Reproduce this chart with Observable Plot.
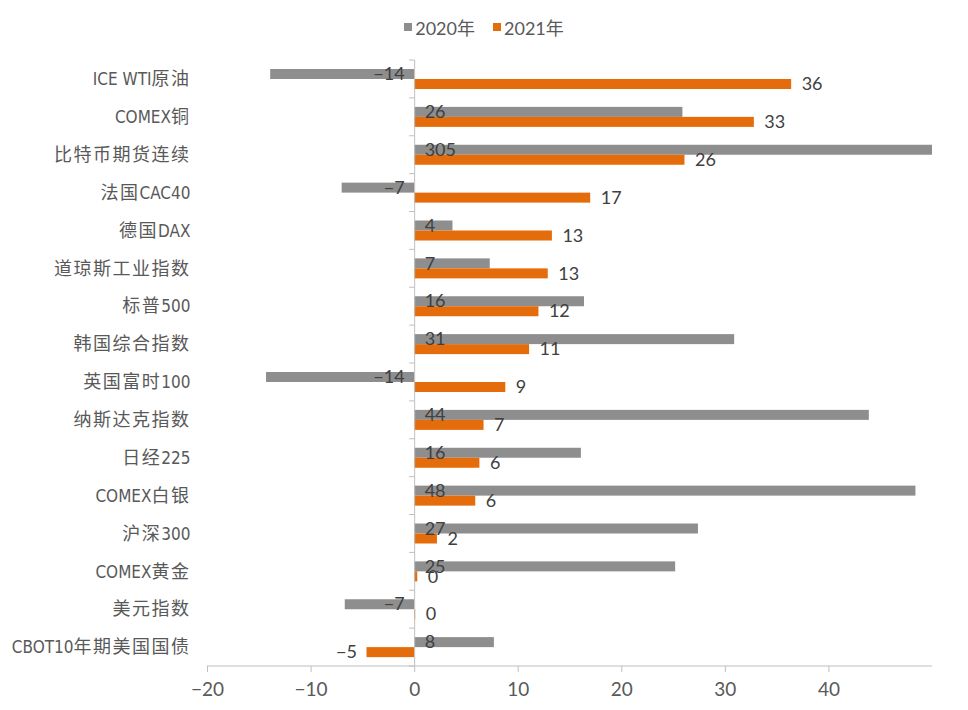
<!DOCTYPE html>
<html>
<head>
<meta charset="utf-8">
<script src="https://cdn.jsdelivr.net/npm/d3@7"></script>
<script src="https://cdn.jsdelivr.net/npm/@observablehq/plot@0.6"></script>
<style>
  body { margin: 0; background: #fff; }
  #wrap { position: relative; width: 968px; height: 710px; }
  #legend { position: absolute; top: 14px; left: 0; width: 968px; display: flex; justify-content: center; align-items: center; gap: 18px;
            font-family: Lato, "Noto Sans CJK SC", sans-serif; font-size: 18px; color: #595959; }
  #legend .item { display: flex; align-items: center; }
  #legend .sw { width: 8px; height: 8px; margin-right: 3px; }
  #chart { position: absolute; top: 0; left: 0; }
</style>
</head>
<body>
<div id="wrap">
  <div id="legend"></div>
  <div id="chart"></div>
</div>
<script>
// ---- data ----
const categories = ["ICE WTI原油", "COMEX铜", "比特币期货连续", "法国CAC40", "德国DAX", "道琼斯工业指数", "标普500", "韩国综合指数",
  "英国富时100", "纳斯达克指数", "日经225", "COMEX白银", "沪深300", "COMEX黄金", "美元指数", "CBOT10年期美国国债"];
const series = ["2020年", "2021年"];
const values2020 = [-13.9, 25.9, 305, -7.0, 3.7, 7.3, 16.4, 30.9, -14.3, 43.9, 16.1, 48.4, 27.4, 25.2, -6.7, 7.7];
const values2021 = [36.4, 32.8, 26.1, 17.0, 13.3, 12.9, 12.0, 11.1, 8.8, 6.7, 6.3, 5.9, 2.2, 0.3, 0.1, -4.6];
const xTicks = [-20, -10, 0, 10, 20, 30, 40];
const xDomain = [-20, 50];
const colors = ["#8e8e8e", "#e46c0a"];

// ---- layout ----
const W = 968, H = 710, mTop = 60, mBottom = 44, mLeft = 207, mRight = 36;
const band = (H - mTop - mBottom) / categories.length;
const numFont = 'Lato, "Noto Sans CJK SC", sans-serif';
const catFont = '"Noto Sans CJK SC", sans-serif';
const latinFont = '"DejaVu Sans Condensed", "Liberation Sans Narrow", "Roboto Condensed", "Noto Sans CJK SC", sans-serif';

const rows2020 = categories.map((c, i) => ({cat: c, value: values2020[i]}));
const rows2021 = categories.map((c, i) => ({cat: c, value: values2021[i]}));
const fmt = v => { const r = Math.round(v); return r < 0 ? "\u2212" + (-r) : String(Math.abs(r)); };

// legend
const legend = document.getElementById("legend");
series.forEach((s, i) => {
  const it = document.createElement("div"); it.className = "item";
  const sw = document.createElement("div"); sw.className = "sw"; sw.style.background = colors[i];
  const tx = document.createElement("span"); tx.textContent = s;
  it.appendChild(sw); it.appendChild(tx); legend.appendChild(it);
});

function axesDecor(index, scales, values, dimensions) {
  const g = d3.create("svg:g");
  const {height, marginTop, marginBottom} = dimensions;
  const x0 = scales.x(0);
  const bottom = height - marginBottom;
  const step = (bottom - marginTop) / categories.length;
  for (let i = 0; i <= categories.length; i++) {
    const yy = marginTop + i * step;
    g.append("line").attr("x1", x0 - 5).attr("x2", x0).attr("y1", yy).attr("y2", yy).attr("stroke", "#bfbfbf");
  }
  g.append("line").attr("x1", scales.x(xDomain[0])).attr("x2", scales.x(xDomain[1]))
    .attr("y1", bottom).attr("y2", bottom).attr("stroke", "#bfbfbf");
  return g.node();
}

const chart = Plot.plot({
  width: W, height: H,
  marginTop: mTop, marginBottom: mBottom, marginLeft: mLeft, marginRight: mRight,
  style: {background: "transparent"},
  x: {domain: xDomain, label: null},
  y: {domain: categories, padding: 0, round: false, label: null},
  marks: [
    Plot.barX(rows2020, {x: "value", y: "cat", fill: colors[0], insetTop: 9, insetBottom: band - 19, clip: true}),
    Plot.barX(rows2021, {x: "value", y: "cat", fill: colors[1], insetTop: 19, insetBottom: band - 29, clip: true}),
    Plot.ruleX([0], {stroke: "#bfbfbf"}),
    axesDecor,
    Plot.axisX({ticks: xTicks, tickSize: 6, tickPadding: 10, stroke: "#bfbfbf", fill: "#595959", fontSize: 19,
      fontFamily: numFont, label: null, tickFormat: fmt}),
    Plot.axisY({tickSize: 0, tickPadding: 17, fill: "#595959", fontSize: 18, fontFamily: catFont, label: null}),
    // 2020 labels at bar base
    Plot.text(rows2020.filter(d => d.value >= 0), {x: () => 0, y: "cat", text: d => fmt(d.value), textAnchor: "start", dx: 10, dy: -5,
      fill: "#404040", fontSize: 18, fontFamily: numFont}),
    Plot.text(rows2020.filter(d => d.value < 0), {x: () => 0, y: "cat", text: d => fmt(d.value), textAnchor: "end", dx: -10, dy: -5,
      fill: "#404040", fontSize: 18, fontFamily: numFont}),
    // 2021 labels outside end
    Plot.text(rows2021.filter(d => d.value >= 0), {x: "value", y: "cat", text: d => fmt(d.value), textAnchor: "start", dx: 10, dy: 5,
      fill: "#404040", fontSize: 18, fontFamily: numFont}),
    Plot.text(rows2021.filter(d => d.value < 0), {x: "value", y: "cat", text: d => fmt(d.value), textAnchor: "end", dx: -10, dy: 5,
      fill: "#404040", fontSize: 18, fontFamily: numFont})
  ]
});

// style category labels: condensed latin runs, spaced CJK runs
d3.select(chart).selectAll('g[aria-label="y-axis tick label"] text').each(function() {
  const t = d3.select(this);
  const s = t.text();
  const runs = s.match(/[\u3400-\u9fff]+|[^\u3400-\u9fff]+/g) || [];
  t.text(null);
  runs.forEach(r => {
    const cjk = /[\u3400-\u9fff]/.test(r);
    const ts = t.append("tspan").text(r);
    if (cjk) ts.attr("letter-spacing", "1.5px").attr("font-size", 18);
    else ts.attr("font-family", latinFont).attr("font-stretch", "condensed").attr("font-size", 17);
  });
});

document.getElementById("chart").appendChild(chart);
</script>
</body>
</html>
